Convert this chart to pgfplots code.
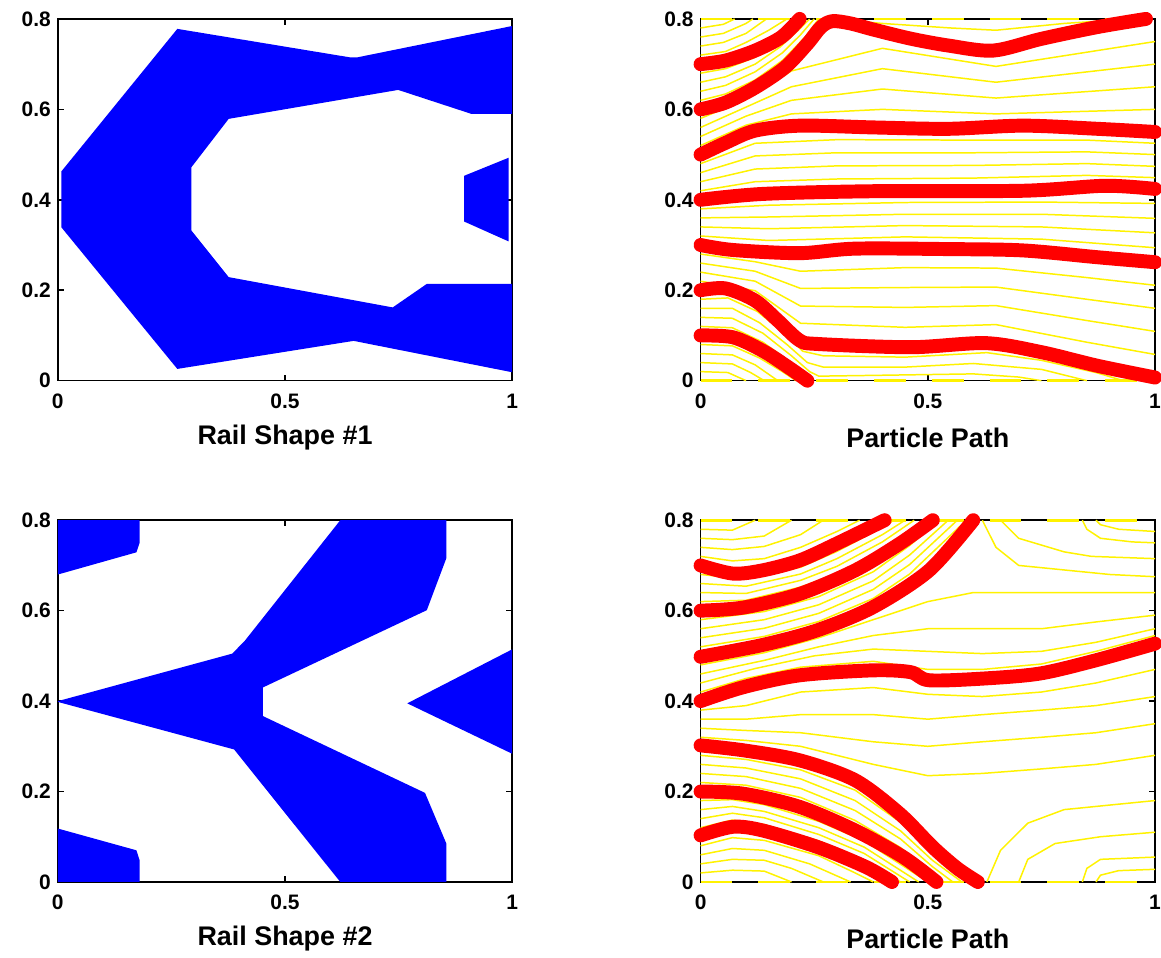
\documentclass[border=0pt]{standalone}
\usepackage{pgfplots}
\pgfplotsset{compat=1.18}
\usepackage{fontspec}
\setmainfont{Liberation Sans}
\begin{document}
\begin{tikzpicture}
\useasboundingbox (0,0) rectangle (582.5pt,480.5pt);
\pgfplotsset{
 myax/.style={scale only axis, width=228pt, height=181.5pt,
  xmin=0,xmax=1,ymin=0,ymax=0.8,
  xtick={0,0.5,1}, ytick={0,0.2,0.4,0.6,0.8},
  tick align=inside, major tick length=3pt, minor tick num=0,
  axis line style={line width=0.8pt},
  every tick/.style={black, line width=0.8pt},
  ticklabel style={font=\bfseries\fontsize{10.5}{12}\selectfont},
  /pgf/number format/assume math mode=true,
  xticklabel style={yshift=-3pt},
  xlabel style={font=\bfseries\fontsize{13.5}{15}\selectfont, at={(axis description cs:0.5,0)}, anchor=center, yshift=-28.5pt},
  anchor=south west},
 yel/.style={yellow, line width=0.75pt},
 bnd/.style={yellow, line width=1.4pt, dash pattern=on 16pt off 13pt},
 rd/.style={red, line width=7pt, line cap=round, line join=round, smooth},
 bl/.style={fill=blue, draw=none},
}
% ---------------- top left
\begin{axis}[myax, at={(29pt,289.5pt)}, xlabel={Rail Shape \#1}]
\addplot[bl] coordinates {(0.008,0.463) (0.263,0.778) (0.643,0.715) (0.659,0.715) (1.003,0.785) (1.003,0.590) (0.91,0.590) (0.749,0.643) (0.376,0.579) (0.294,0.472) (0.294,0.332) (0.376,0.229) (0.737,0.162) (0.812,0.214) (1.003,0.214) (1.003,0.018) (0.651,0.088) (0.263,0.026) (0.008,0.339)} -- cycle;
\addplot[bl] coordinates {(0.894,0.453) (0.992,0.493) (0.992,0.308) (0.894,0.352)} -- cycle;
\end{axis}
% ---------------- bottom left
\begin{axis}[myax, at={(29pt,38pt)}, xlabel={Rail Shape \#2}]
\addplot[bl] coordinates {(-0.003,0.803) (0.18,0.803) (0.18,0.75) (0.173,0.729) (-0.003,0.679)} -- cycle;
\addplot[bl] coordinates {(-0.003,-0.003) (-0.003,0.119) (0.173,0.07) (0.18,0.048) (0.18,-0.003)} -- cycle;
\addplot[bl] coordinates {(-0.003,0.399) (0.384,0.505) (0.412,0.534) (0.624,0.803) (0.855,0.803) (0.855,0.716) (0.812,0.601) (0.451,0.430) (0.451,0.367) (0.808,0.197) (0.855,0.085) (0.855,-0.003) (0.624,-0.003) (0.388,0.293)} -- cycle;
\addplot[bl] coordinates {(0.769,0.395) (1.003,0.516) (1.003,0.282)} -- cycle;
\end{axis}
% ---------------- top right
\begin{axis}[myax, at={(351.5pt,289.5pt)}, xlabel={Particle Path}, clip=false]
\addplot[bnd] coordinates {(0,0.8) (1,0.8)};
\addplot[bnd] coordinates {(0,0) (1,0)};
% gap 0-0.1
\addplot[yel] coordinates {(0,.02) (.06,.018) (.1,0)};
\addplot[yel] coordinates {(0,.04) (.07,.037) (.11,.018) (.14,0)};
\addplot[yel] coordinates {(0,.06) (.07,.057) (.12,.035) (.17,0)};
\addplot[yel] coordinates {(0,.08) (.07,.077) (.13,.05) (.18,.02) (.21,0)};
% gap 0.1-0.2
\addplot[yel] coordinates {(0,.12) (.07,.117) (.137,.085) (.2,.04) (.245,0)};
\addplot[yel] coordinates {(0,.14) (.07,.138) (.137,.105) (.2,.055) (.24,.02) (.26,.01) (.4,.012) (.6,.015) (.7,.008) (.75,0)};
\addplot[yel] coordinates {(0,.16) (.07,.16) (.13,.128) (.19,.08) (.235,.04) (.27,.03) (.45,.03) (.6,.038) (.75,.025) (.85,0)};
\addplot[yel] coordinates {(0,.18) (.06,.183) (.125,.153) (.18,.108) (.225,.065) (.27,.055) (.45,.052) (.63,.062) (.75,.045) (.87,.018) (.93,0)};
% gap 0.2-0.3
\addplot[yel] coordinates {(0,.22) (.12,.199) (.22,.127) (.45,.118) (.65,.124) (.85,.085) (1,.058)};
\addplot[yel] coordinates {(0,.24) (.12,.22) (.22,.165) (.45,.162) (.65,.166) (.85,.133) (1,.109)};
\addplot[yel] coordinates {(0,.26) (.12,.242) (.22,.204) (.45,.206) (.65,.207) (.85,.18) (1,.16)};
\addplot[yel] coordinates {(0,.28) (.12,.263) (.22,.242) (.45,.25) (.65,.249) (.85,.228) (1,.211)};
% gap 0.3-0.4
\addplot[yel] coordinates {(0,.32) (.15,.31) (.45,.318) (.75,.313) (1,.294)};
\addplot[yel] coordinates {(0,.34) (.15,.336) (.45,.343) (.75,.34) (1,.327)};
\addplot[yel] coordinates {(0,.36) (.15,.362) (.45,.368) (.75,.368) (1,.359)};
\addplot[yel] coordinates {(0,.38) (.15,.388) (.45,.394) (.75,.395) (1,.392)};
% gap 0.4-0.5
\addplot[yel] coordinates {(0,.42) (.12,.44) (.3,.446) (.6,.448) (.85,.454) (1,.449)};
\addplot[yel] coordinates {(0,.44) (.12,.468) (.3,.475) (.6,.476) (.85,.48) (1,.474)};
\addplot[yel] coordinates {(0,.46) (.12,.497) (.3,.504) (.6,.504) (.85,.506) (1,.50)};
\addplot[yel] coordinates {(0,.48) (.12,.525) (.3,.533) (.6,.532) (.85,.532) (1,.525)};
% gap 0.5-0.6
\addplot[yel] coordinates {(0,.52) (.1,.565) (.2,.59) (.4,.60) (.65,.59) (1,.60)};
\addplot[yel] coordinates {(0,.54) (.1,.585) (.2,.62) (.4,.645) (.65,.625) (1,.65)};
\addplot[yel] coordinates {(0,.56) (.1,.605) (.2,.65) (.4,.69) (.65,.66) (1,.70)};
\addplot[yel] coordinates {(0,.58) (.1,.622) (.2,.685) (.4,.735) (.65,.695) (1,.75)};
% gap 0.6-0.7
\addplot[yel] coordinates {(0,.62) (.055,.634) (.12,.665) (.18,.708) (.23,.76) (.26,.8)};
\addplot[yel] coordinates {(0,.64) (.055,.653) (.12,.683) (.18,.725) (.22,.765) (.25,.8)};
\addplot[yel] coordinates {(0,.66) (.055,.672) (.12,.700) (.175,.738) (.215,.775) (.24,.8)};
\addplot[yel] coordinates {(0,.68) (.055,.69) (.12,.715) (.17,.748) (.21,.785) (.23,.8)};
% gap 0.7-0.8
\addplot[yel] coordinates {(0,.72) (.055,.728) (.1,.748) (.15,.775) (.19,.8)};
\addplot[yel] coordinates {(0,.74) (.05,.748) (.1,.768) (.145,.8)};
\addplot[yel] coordinates {(0,.76) (.05,.768) (.1,.79) (.115,.8)};
\addplot[yel] coordinates {(0,.78) (.05,.788) (.075,.8)};
\addplot[yel] coordinates {(.29,.8) (.4,.79) (.55,.78) (.65,.775) (.8,.79) (.95,.8)};
% red particle paths
\addplot[rd] coordinates {(0,.70) (.055,.708) (.12,.73) (.178,.76) (.218,.8)};
\addplot[rd] coordinates {(0,.6) (.055,.615) (.12,.648) (.186,.693) (.235,.745) (.265,.782) (.29,.795) (.33,.79) (.382,.776) (.464,.756) (.546,.741) (.644,.73) (.75,.756) (.873,.782) (.98,.80)};
\addplot[rd] coordinates {(0,.5) (.055,.526) (.12,.553) (.22,.564) (.382,.56) (.546,.557) (.71,.564) (.873,.557) (1,.55)};
\addplot[rd] coordinates {(0,.4) (.137,.413) (.382,.419) (.71,.42) (.89,.431) (1,.424)};
\addplot[rd] coordinates {(0,.3) (.071,.289) (.218,.282) (.34,.292) (.546,.291) (.71,.288) (.873,.273) (1,.262)};
\addplot[rd] coordinates {(0,.2) (.055,.204) (.12,.177) (.17,.133) (.218,.089) (.26,.081) (.464,.074) (.628,.083) (.75,.063) (.873,.033) (1,.007)};
\addplot[rd] coordinates {(0,.1) (.071,.096) (.137,.066) (.194,.029) (.235,0)};
\end{axis}
% ---------------- bottom right
\begin{axis}[myax, at={(351.5pt,38pt)}, xlabel={Particle Path}, clip=false]
\addplot[bnd] coordinates {(0,0.8) (1,0.8)};
\addplot[bnd] coordinates {(0,0) (1,0)};
% gap 0-0.1
\addplot[yel] coordinates {(0,.02) (.07,.026) (.14,.024) (.2,0)};
\addplot[yel] coordinates {(0,.04) (.07,.05) (.14,.048) (.2,.03) (.27,0)};
\addplot[yel] coordinates {(0,.06) (.07,.074) (.14,.07) (.24,.04) (.33,0)};
\addplot[yel] coordinates {(0,.08) (.07,.098) (.14,.092) (.26,.058) (.34,.02) (.38,0)};
% gap 0.1-0.2
\addplot[yel] coordinates {(0,.12) (.07,.137) (.14,.127) (.26,.091) (.36,.049) (.44,0)};
\addplot[yel] coordinates {(0,.14) (.07,.152) (.14,.142) (.26,.105) (.36,.063) (.46,0)};
\addplot[yel] coordinates {(0,.16) (.07,.167) (.14,.156) (.26,.12) (.36,.077) (.48,0)};
\addplot[yel] coordinates {(0,.18) (.07,.182) (.14,.171) (.26,.134) (.36,.091) (.50,0)};
% gap 0.2-0.3
\addplot[yel] coordinates {(0,.22) (.1,.214) (.22,.187) (.34,.136) (.44,.076) (.535,0)};
\addplot[yel] coordinates {(0,.24) (.1,.233) (.22,.207) (.34,.158) (.44,.095) (.51,.034) (.555,0)};
\addplot[yel] coordinates {(0,.26) (.1,.252) (.22,.228) (.34,.18) (.44,.113) (.51,.048) (.575,0)};
\addplot[yel] coordinates {(0,.28) (.1,.271) (.22,.248) (.34,.203) (.44,.132) (.51,.063) (.595,0)};
% gap 0.3-0.4
\addplot[yel] coordinates {(0,.32) (.1,.313) (.22,.3) (.38,.26) (.5,.235) (.62,.24) (.75,.25) (.87,.26) (1,.28)};
\addplot[yel] coordinates {(0,.34) (.1,.335) (.22,.33) (.38,.31) (.5,.3) (.62,.31) (.75,.32) (.87,.33) (1,.35)};
\addplot[yel] coordinates {(0,.36) (.1,.36) (.22,.37) (.38,.37) (.5,.36) (.62,.37) (.75,.38) (.87,.39) (1,.41)};
\addplot[yel] coordinates {(0,.38) (.1,.39) (.22,.42) (.38,.43) (.5,.415) (.62,.41) (.75,.42) (.87,.44) (1,.47)};
% lower right region
\addplot[yel] coordinates {(.63,0) (.66,.07) (.72,.13) (.8,.16) (.9,.17) (1,.18)};
\addplot[yel] coordinates {(.7,0) (.72,.05) (.78,.085) (.88,.1) (1,.11)};
\addplot[yel] coordinates {(.84,0) (.85,.03) (.88,.05) (1,.055)};
\addplot[yel] coordinates {(.87,0) (.88,.015) (.92,.025) (1,.028)};
% gap 0.4-0.5
\addplot[yel] coordinates {(0,.42) (.1,.45) (.22,.475) (.38,.488) (.5,.47) (.62,.47) (.75,.482) (.87,.51) (1,.545)};
\addplot[yel] coordinates {(0,.44) (.12,.472) (.25,.5) (.38,.515) (.5,.51) (.62,.505) (.75,.51) (.87,.53) (1,.56)};
\addplot[yel] coordinates {(0,.46) (.14,.49) (.26,.52) (.38,.545) (.5,.56) (.62,.56) (.75,.56) (.87,.575) (1,.59)};
\addplot[yel] coordinates {(0,.48) (.14,.507) (.26,.54) (.38,.58) (.5,.62) (.6,.64) (.75,.64) (.86,.64) (1,.64)};
% upper right region
\addplot[yel] coordinates {(.62,.8) (.65,.74) (.7,.7) (.8,.69) (.9,.68) (1,.675)};
\addplot[yel] coordinates {(.66,.8) (.7,.76) (.8,.73) (.86,.72) (1,.715)};
\addplot[yel] coordinates {(.84,.8) (.85,.78) (.88,.76) (.95,.752) (1,.75)};
\addplot[yel] coordinates {(.87,.8) (.88,.79) (.92,.78) (1,.775)};
% gap 0.5-0.6
\addplot[yel] coordinates {(0,.52) (.14,.543) (.26,.576) (.38,.627) (.46,.681) (.585,.8)};
\addplot[yel] coordinates {(0,.54) (.14,.561) (.26,.594) (.38,.647) (.46,.702) (.565,.8)};
\addplot[yel] coordinates {(0,.56) (.14,.58) (.26,.613) (.38,.666) (.46,.723) (.545,.8)};
\addplot[yel] coordinates {(0,.58) (.14,.598) (.26,.631) (.38,.686) (.46,.744) (.525,.8)};
% gap 0.6-0.7
\addplot[yel] coordinates {(0,.62) (.1,.623) (.22,.652) (.3,.682) (.4,.736) (.49,.8)};
\addplot[yel] coordinates {(0,.64) (.1,.638) (.22,.667) (.3,.698) (.4,.752) (.47,.8)};
\addplot[yel] coordinates {(0,.66) (.1,.654) (.22,.681) (.3,.715) (.4,.768) (.45,.8)};
\addplot[yel] coordinates {(0,.68) (.1,.67) (.22,.696) (.3,.731) (.4,.784) (.425,.8)};
% gap 0.7-0.8
\addplot[yel] coordinates {(0,.72) (.07,.71) (.14,.715) (.22,.74) (.3,.775) (.35,.8)};
\addplot[yel] coordinates {(0,.74) (.07,.735) (.14,.742) (.22,.768) (.27,.8)};
\addplot[yel] coordinates {(0,.76) (.07,.757) (.14,.765) (.2,.8)};
\addplot[yel] coordinates {(0,.78) (.07,.778) (.12,.8)};
% red particle paths
\addplot[rd] coordinates {(0,.7) (.071,.682) (.136,.689) (.218,.711) (.299,.748) (.405,.8)};
\addplot[rd] coordinates {(0,.6) (.095,.607) (.218,.637) (.34,.689) (.438,.748) (.511,.8)};
\addplot[rd] coordinates {(0,.498) (.136,.524) (.258,.557) (.38,.608) (.503,.689) (.60,.8)};
\addplot[rd] coordinates {(0,.4) (.095,.431) (.218,.457) (.38,.468) (.462,.464) (.503,.446) (.625,.45) (.747,.461) (.869,.49) (1,.527)};
\addplot[rd] coordinates {(0,.302) (.095,.291) (.218,.269) (.34,.225) (.438,.151) (.511,.077) (.565,.03) (.61,0)};
\addplot[rd] coordinates {(0,.2) (.095,.195) (.218,.166) (.34,.114) (.446,.055) (.519,0)};
\addplot[rd] coordinates {(0,.103) (.071,.122) (.136,.114) (.258,.077) (.364,.033) (.421,0)};
\end{axis}
\end{tikzpicture}
\end{document}
